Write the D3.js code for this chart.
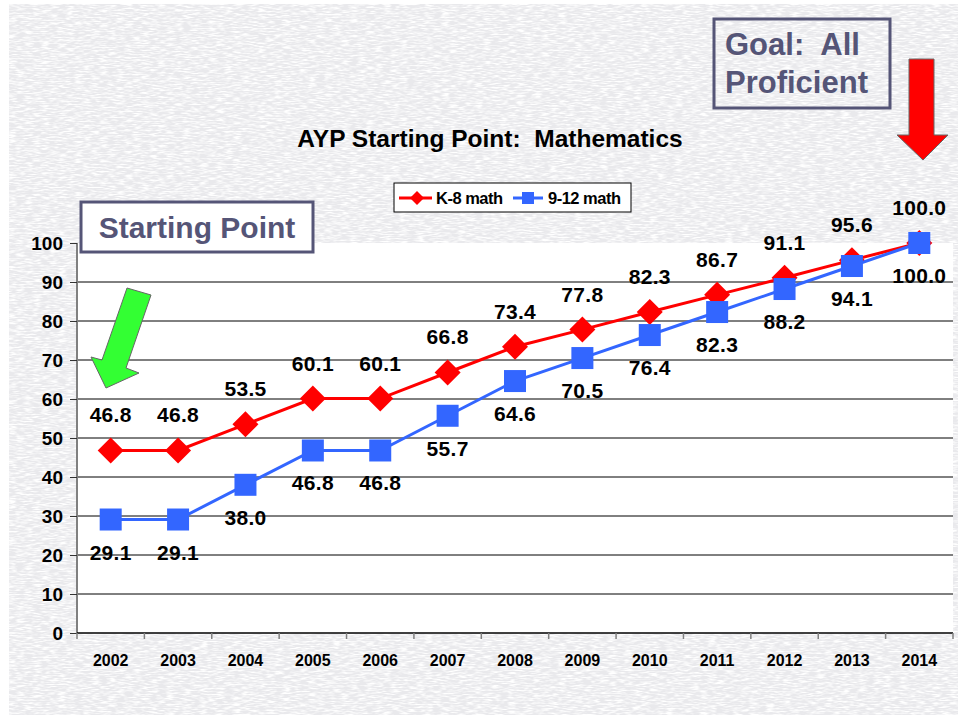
<!DOCTYPE html>
<html>
<head>
<meta charset="utf-8">
<script src="https://cdn.jsdelivr.net/npm/d3@7"></script>
<style>
  body { margin: 0; background: #ffffff; }
  svg { display: block; font-family: "Liberation Sans", Arial, sans-serif; }
  text { white-space: pre; }
</style>
</head>
<body>
<svg id="ayp" width="958" height="717"></svg>
<script>
var years = ["2002", "2003", "2004", "2005", "2006", "2007", "2008", "2009", "2010", "2011", "2012", "2013", "2014"];
var k8Math = [46.8, 46.8, 53.5, 60.1, 60.1, 66.8, 73.4, 77.8, 82.3, 86.7, 91.1, 95.6, 100.0];
var hsMath = [29.1, 29.1, 38.0, 46.8, 46.8, 55.7, 64.6, 70.5, 76.4, 82.3, 88.2, 94.1, 100.0];
var yTicks = [0, 10, 20, 30, 40, 50, 60, 70, 80, 90, 100];
var seriesNames = ["K-8 math", "9-12 math"];

var svg = d3.select("#ayp"),
  margin = { top: 243, right: 5, bottom: 84, left: 77 },
  width = +svg.attr("width") - margin.left - margin.right,
  height = +svg.attr("height") - margin.top - margin.bottom;

// textured slide background
var defs = svg.append("defs");
var tex = defs.append("filter").attr("id", "paper")
  .attr("x", 0).attr("y", 0).attr("width", "100%").attr("height", "100%");
tex.append("feTurbulence")
  .attr("type", "fractalNoise")
  .attr("baseFrequency", "0.12 0.7")
  .attr("numOctaves", 2)
  .attr("seed", 3);
tex.append("feColorMatrix")
  .attr("values", "0 0 0 0 1  0 0 0 0 1  0 0 0 0 1  3 0 0 0 -1.2");

svg.append("rect")
  .attr("x", 9).attr("y", 4).attr("width", 949).attr("height", 711)
  .attr("fill", "#e9e9ec");
svg.append("rect")
  .attr("x", 9).attr("y", 4).attr("width", 949).attr("height", 711)
  .attr("fill", "#fff")
  .attr("filter", "url(#paper)");

var x = d3.scaleBand().domain(years).range([0, width]),
  y = d3.scaleLinear().domain([0, 100]).range([height, 0]);

var g = svg.append("g")
  .attr("transform", "translate(" + margin.left + "," + margin.top + ")");

g.append("rect")
  .attr("width", width).attr("height", height)
  .attr("fill", "#ffffff");

// gridlines
g.append("g")
  .selectAll("line")
  .data(yTicks.filter(function (d) { return d > 0 && d < 100; }))
  .enter().append("line")
  .attr("x1", 0).attr("x2", width)
  .attr("y1", function (d) { return y(d); })
  .attr("y2", function (d) { return y(d); })
  .attr("stroke", "#000").attr("stroke-width", 1);

// y axis
var yAxis = g.append("g")
  .call(d3.axisLeft(y).tickValues(yTicks).tickSize(7).tickPadding(7));
yAxis.select(".domain").attr("stroke", "#808080").attr("stroke-width", 2)
  .attr("d", "M0," + y(100) + "V" + height);
yAxis.selectAll(".tick line").attr("stroke", "#333");
yAxis.selectAll(".tick text")
  .attr("font-size", 19).attr("font-weight", "bold").attr("fill", "#000")
  .attr("font-family", "Liberation Sans, Arial, sans-serif");

// x axis: ticks between categories
var xAxis = g.append("g").attr("transform", "translate(0," + height + ")");
xAxis.append("line").attr("x1", 0).attr("x2", width)
  .attr("stroke", "#000").attr("stroke-width", 1.5);
xAxis.selectAll(".sep")
  .data(years.concat(["end"]))
  .enter().append("line")
  .attr("x1", function (d, i) { return i * x.step(); })
  .attr("x2", function (d, i) { return i * x.step(); })
  .attr("y1", 0).attr("y2", 6)
  .attr("stroke", "#808080").attr("stroke-width", 1.5);
xAxis.selectAll(".lab")
  .data(years)
  .enter().append("text")
  .attr("x", function (d) { return x(d) + x.bandwidth() / 2; })
  .attr("y", 33)
  .attr("text-anchor", "middle")
  .attr("font-size", 16).attr("font-weight", "bold")
  .text(function (d) { return d; });

var line = d3.line()
  .x(function (d, i) { return x(years[i]) + x.bandwidth() / 2; })
  .y(function (d) { return y(d); });

var px = function (i) { return x(years[i]) + x.bandwidth() / 2; };

// K-8 series
g.append("path").datum(k8Math)
  .attr("d", line).attr("fill", "none")
  .attr("stroke", "#ff0000").attr("stroke-width", 3);
g.selectAll(".k8")
  .data(k8Math)
  .enter().append("path")
  .attr("class", "k8")
  .attr("transform", function (d, i) { return "translate(" + px(i) + "," + y(d) + ")"; })
  .attr("d", "M0,-13L13,0L0,13L-13,0Z")
  .attr("fill", "#ff0000");

// 9-12 series
g.append("path").datum(hsMath)
  .attr("d", line).attr("fill", "none")
  .attr("stroke", "#3366ff").attr("stroke-width", 3);
g.selectAll(".hs")
  .data(hsMath)
  .enter().append("rect")
  .attr("class", "hs")
  .attr("x", function (d, i) { return px(i) - 11; })
  .attr("y", function (d) { return y(d) - 11; })
  .attr("width", 22).attr("height", 22)
  .attr("fill", "#3366ff");

// data labels
g.selectAll(".k8lab")
  .data(k8Math)
  .enter().append("text")
  .attr("x", function (d, i) { return px(i); })
  .attr("y", function (d) { return y(d) - 28; })
  .attr("text-anchor", "middle")
  .attr("font-size", 21).attr("font-weight", "bold")
  .attr("letter-spacing", 0.3)
  .text(function (d) { return d.toFixed(1); });
g.selectAll(".hslab")
  .data(hsMath)
  .enter().append("text")
  .attr("x", function (d, i) { return px(i); })
  .attr("y", function (d) { return y(d) + 40; })
  .attr("text-anchor", "middle")
  .attr("font-size", 21).attr("font-weight", "bold")
  .attr("letter-spacing", 0.3)
  .text(function (d) { return d.toFixed(1); });

// title
svg.append("text")
  .attr("x", 490).attr("y", 147)
  .attr("text-anchor", "middle")
  .attr("font-size", 24.5).attr("font-weight", "bold")
  .text("AYP Starting Point:  Mathematics");

// legend
var legend = svg.append("g").attr("transform", "translate(394,183)");
legend.append("rect")
  .attr("width", 237).attr("height", 29)
  .attr("fill", "#fff").attr("stroke", "#000").attr("stroke-width", 1);
legend.append("line").attr("x1", 5).attr("x2", 38).attr("y1", 15).attr("y2", 15)
  .attr("stroke", "#ff0000").attr("stroke-width", 3);
legend.append("path").attr("transform", "translate(23,15)")
  .attr("d", "M0,-7L7,0L0,7L-7,0Z").attr("fill", "#ff0000");
legend.append("line").attr("x1", 119).attr("x2", 149).attr("y1", 15).attr("y2", 15)
  .attr("stroke", "#3366ff").attr("stroke-width", 3);
legend.append("rect").attr("x", 128).attr("y", 9).attr("width", 12).attr("height", 12)
  .attr("fill", "#3366ff");
legend.selectAll(".ltxt")
  .data(seriesNames)
  .enter().append("text")
  .attr("x", function (d, i) { return i === 0 ? 42 : 154; })
  .attr("y", 21)
  .attr("font-size", 16.5).attr("font-weight", "bold")
  .attr("letter-spacing", -0.5)
  .text(function (d) { return d; });

// callout boxes
var boxColor = "#555577";
svg.append("rect")
  .attr("x", 81).attr("y", 202).attr("width", 232).attr("height", 50)
  .attr("fill", "#fff").attr("stroke", boxColor).attr("stroke-width", 3);
svg.append("text")
  .attr("x", 197).attr("y", 238)
  .attr("text-anchor", "middle")
  .attr("font-size", 30).attr("font-weight", "bold").attr("fill", boxColor)
  .text("Starting Point");

svg.append("rect")
  .attr("x", 714).attr("y", 19).attr("width", 176).attr("height", 89)
  .attr("fill", "none").attr("stroke", boxColor).attr("stroke-width", 3);
svg.append("text")
  .attr("x", 725).attr("y", 55)
  .attr("font-size", 31).attr("font-weight", "bold").attr("fill", boxColor)
  .text("Goal:  All");
svg.append("text")
  .attr("x", 725).attr("y", 93)
  .attr("font-size", 31).attr("font-weight", "bold").attr("fill", boxColor)
  .text("Proficient");

// arrows
svg.append("path")
  .attr("d", "M909,59L934,59L934,135L948,135L923,160L897,135L909,135Z")
  .attr("fill", "#ff0000").attr("stroke", "#666").attr("stroke-width", 1);
svg.append("path")
  .attr("d", "M127,288L151,295L126,368L139,373L106,388L91,357L102,360Z")
  .attr("fill", "#33ff33").attr("stroke", "#666").attr("stroke-width", 1);
</script>
</body>
</html>
